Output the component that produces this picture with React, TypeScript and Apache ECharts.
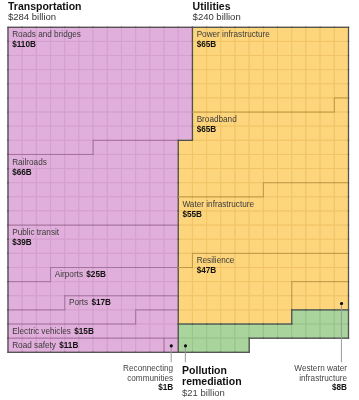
import React, { useEffect, useRef } from "react";
import * as echarts from "echarts";

const COLS = 24;
const ROWS = 23;

const groupNames = ["Transportation", "Utilities", "Pollution remediation"];
const groupTotalLabels = ["$284 billion", "$240 billion", "$21 billion"];

const transportationItems = [
  "Roads and bridges",
  "Railroads",
  "Public transit",
  "Airports",
  "Ports",
  "Electric vehicles",
  "Road safety",
  "Reconnecting communities",
];
const transportationValues = [110, 66, 39, 25, 17, 15, 11, 1];

const utilitiesItems = [
  "Power infrastructure",
  "Broadband",
  "Water infrastructure",
  "Resilience",
  "Western water infrastructure",
];
const utilitiesValues = [65, 65, 55, 47, 8];

const pollutionItems = ["Pollution remediation"];
const pollutionValues = [21];

// annotated (outside) labels
const annotatedItems = ["Reconnecting communities", "Western water infrastructure", "Pollution remediation"];

const FONT = "'Liberation Sans', Arial, sans-serif";
const groupFill = ["#e1afdb", "#fdd57c", "#a9d49c"];
const groupCellLine = ["#d59fce", "#f1c467", "#97c58b"];
const groupItemBorder = ["#a5729c", "#c09848", "#5c8a50"];
const BORDER = "#505050";

type Cell = { c: number; r: number; g: number; i: number };

const sum = (a: number[]) => a.reduce((s, v) => s + v, 0);

function buildLayout() {
  const grid: (Cell | null)[][] = Array.from({ length: ROWS }, () => Array(COLS).fill(null));
  const cells: Cell[] = [];
  const put = (c: number, r: number, g: number, i: number) => {
    const cell = { c, r, g, i };
    grid[r][c] = cell;
    cells.push(cell);
  };
  const assign = (list: number[][], values: number[], g: number, offset = 0) => {
    let k = 0;
    values.forEach((v, idx) => {
      for (let n = 0; n < v && k < list.length; n++, k++) put(list[k][0], list[k][1], g, idx + offset);
    });
  };

  const half = COLS / 2;
  const tTotal = sum(transportationValues);
  const extraRows = tTotal - half * ROWS;
  const tWidth = (r: number) => (r < extraRows ? half + 1 : half);

  const tCells: number[][] = [];
  for (let r = 0; r < ROWS; r++) for (let c = 0; c < tWidth(r); c++) tCells.push([c, r]);
  assign(tCells, transportationValues, 0);

  const region: number[][] = [];
  for (let r = 0; r < ROWS; r++) for (let c = tWidth(r); c < COLS; c++) region.push([c, r]);
  const uTotal = sum(utilitiesValues);
  const uCells = region.slice(0, uTotal);
  const last = uCells[uCells.length - 1];
  const partialRow = last[1];
  const partialEnd = last[0];
  const blockW = COLS - 1 - partialEnd;
  const lastVal = utilitiesValues[utilitiesValues.length - 1];
  const blockH = Math.ceil(lastVal / blockW);
  const inBlock = (c: number, r: number) =>
    c > partialEnd && r >= partialRow - blockH && r < partialRow;
  const rest = uCells.filter(([c, r]) => !inBlock(c, r));
  assign(rest, utilitiesValues.slice(0, -1), 1);
  const blockCells = uCells.filter(([c, r]) => inBlock(c, r));
  assign(blockCells, [lastVal], 1, utilitiesValues.length - 1);

  const pCells = region.slice(uTotal, uTotal + sum(pollutionValues));
  assign(pCells, pollutionValues, 2);

  // edges
  const edges: number[][] = [];
  const dirs = [
    [1, 0, "R"],
    [0, 1, "D"],
    [-1, 0, "L"],
    [0, -1, "U"],
  ] as const;
  for (const a of cells) {
    for (const [dc, dr, d] of dirs) {
      const nc = a.c + dc;
      const nr = a.r + dr;
      const n = nr >= 0 && nr < ROWS && nc >= 0 && nc < COLS ? grid[nr][nc] : null;
      let type = -1;
      if (!n) type = 0;
      else if (d === "R" || d === "D") {
        if (n.g !== a.g) type = 0;
        else if (n.i !== a.i) type = 1;
      }
      if (type < 0) continue;
      let seg: number[];
      if (d === "R") seg = [a.c + 1, a.r, a.c + 1, a.r + 1];
      else if (d === "L") seg = [a.c, a.r, a.c, a.r + 1];
      else if (d === "D") seg = [a.c, a.r + 1, a.c + 1, a.r + 1];
      else seg = [a.c, a.r, a.c + 1, a.r];
      edges.push([...seg, type, a.g]);
    }
  }

  // labels
  const groupItems = [transportationItems, utilitiesItems, pollutionItems];
  const groupValues = [transportationValues, utilitiesValues, pollutionValues];
  const labels: { c: number; r: number; name: string; value: number; two: boolean }[] = [];
  groupItems.forEach((items, g) => {
    items.forEach((name, i) => {
      if (annotatedItems.includes(name)) return;
      const mine = cells.filter((x) => x.g === g && x.i === i).sort((p, q) => p.r - q.r || p.c - q.c);
      const first = mine[0];
      const inRow = mine.filter((x) => x.r === first.r);
      let row = first.r;
      let col = first.c;
      if (inRow.length < 8) {
        row = first.r + 1;
        col = Math.min(...mine.filter((x) => x.r === row).map((x) => x.c));
      }
      const value = groupValues[g][i];
      labels.push({ c: col, r: row, name, value, two: value >= 30 });
    });
  });

  // annotation anchors
  const annotations = [
    {
      name: "Reconnecting communities",
      align: "right",
      dx: 2,
      lines: [
        { t: "Reconnecting", bold: false, size: 8.2 },
        { t: "communities", bold: false, size: 8.2 },
        { t: "$" + transportationValues[7] + "B", bold: true, size: 8.2 },
      ],
      dy: [16.4, 26.4, 35.2],
    },
    {
      name: "Western water infrastructure",
      align: "right",
      dx: 5.6,
      lines: [
        { t: "Western water", bold: false, size: 8.2 },
        { t: "infrastructure", bold: false, size: 8.2 },
        { t: "$" + utilitiesValues[4] + "B", bold: true, size: 8.2 },
      ],
      dy: [16.4, 26.4, 35.6],
    },
    {
      name: "Pollution remediation",
      align: "left",
      dx: -3.3,
      lines: [
        { t: "Pollution", bold: true, size: 10.5 },
        { t: "remediation", bold: true, size: 10.5 },
        { t: groupTotalLabels[2], bold: false, size: 9.5 },
      ],
      dy: [17.7, 28.7, 39.8],
    },
  ].map((a) => {
    let g = 0;
    let i = 0;
    groupItems.forEach((items, gi) => {
      const k = items.indexOf(a.name);
      if (k >= 0) {
        g = gi;
        i = k;
      }
    });
    const mine = cells.filter((x) => x.g === g && x.i === i);
    const bottom = Math.max(...mine.map((x) => x.r));
    const inRow = mine.filter((x) => x.r === bottom).map((x) => x.c);
    const col = a.align === "right" ? Math.max(...inRow) : Math.min(...inRow);
    return { ...a, c: col, r: bottom };
  });

  return { cells, edges, labels, annotations };
}

export default function App() {
  const ref = useRef<HTMLDivElement>(null);
  useEffect(() => {
    if (!ref.current) return;
    const chart = echarts.init(ref.current, undefined, { renderer: "svg" });
    const { cells, edges, labels, annotations } = buildLayout();

    const option: any = {
      animation: false,
      grid: { left: 8, top: 27.3, width: 340.5, height: 325 },
      xAxis: { type: "value", min: 0, max: COLS, show: false },
      yAxis: { type: "value", min: 0, max: ROWS, inverse: true, show: false },
      graphic: [
        {
          type: "text",
          x: 8,
          y: 5.5,
          style: { text: groupNames[0], font: `bold 10.5px ${FONT}`, fill: "#111", verticalAlign: "middle" },
        },
        {
          type: "text",
          x: 8,
          y: 16,
          style: { text: groupTotalLabels[0], font: `9.5px ${FONT}`, fill: "#333", verticalAlign: "middle" },
        },
        {
          type: "text",
          x: 192.6,
          y: 5.5,
          style: { text: groupNames[1], font: `bold 10.5px ${FONT}`, fill: "#111", verticalAlign: "middle" },
        },
        {
          type: "text",
          x: 192.6,
          y: 16,
          style: { text: groupTotalLabels[1], font: `9.5px ${FONT}`, fill: "#333", verticalAlign: "middle" },
        },
      ],
      series: [
        {
          type: "custom",
          clip: false,
          silent: true,
          data: cells.map((x) => [x.c, x.r, x.g, x.i]),
          encode: { x: 0, y: 1 },
          renderItem: (_p: any, api: any) => {
            const c = api.value(0);
            const r = api.value(1);
            const g = api.value(2);
            const p0 = api.coord([c, r]);
            const p1 = api.coord([c + 1, r + 1]);
            return {
              type: "rect",
              shape: { x: p0[0], y: p0[1], width: p1[0] - p0[0], height: p1[1] - p0[1] },
              style: { fill: groupFill[g], stroke: groupCellLine[g], lineWidth: 1 },
            };
          },
        },
        {
          type: "custom",
          clip: false,
          silent: true,
          z: 3,
          data: edges,
          encode: { x: [0, 2], y: [1, 3] },
          renderItem: (_p: any, api: any) => {
            const a = api.coord([api.value(0), api.value(1)]);
            const b = api.coord([api.value(2), api.value(3)]);
            const type = api.value(4);
            const g = api.value(5);
            return {
              type: "line",
              shape: { x1: a[0], y1: a[1], x2: b[0], y2: b[1] },
              style: {
                stroke: type === 0 ? BORDER : groupItemBorder[g],
                lineWidth: type === 0 ? 1.3 : 1,
                lineCap: "square",
              },
            };
          },
        },
        {
          type: "custom",
          clip: false,
          silent: true,
          z: 4,
          data: labels.map((l) => [l.c, l.r]),
          encode: { x: 0, y: 1 },
          renderItem: (p: any, api: any) => {
            const l = labels[p.dataIndex];
            const pt = api.coord([api.value(0), api.value(1)]);
            const x = pt[0] + 4.2;
            const y = pt[1] + 7.6;
            const val = "$" + l.value + "B";
            if (l.two) {
              return {
                type: "group",
                children: [
                  {
                    type: "text",
                    x,
                    y,
                    style: { text: l.name, font: `8.2px ${FONT}`, fill: "#3a3a3a", verticalAlign: "middle" },
                  },
                  {
                    type: "text",
                    x,
                    y: y + 10,
                    style: { text: val, font: `bold 8.2px ${FONT}`, fill: "#111", verticalAlign: "middle" },
                  },
                ],
              };
            }
            return {
              type: "text",
              x,
              y: pt[1] + 7,
              style: {
                text: `{n|${l.name}} {v|${val}}`,
                verticalAlign: "middle",
                rich: {
                  n: { font: `8.2px ${FONT}`, fill: "#3a3a3a" },
                  v: { font: `bold 8.2px ${FONT}`, fill: "#111" },
                },
              },
            };
          },
        },
        {
          type: "custom",
          clip: false,
          silent: true,
          z: 5,
          data: annotations.map((a) => [a.c, a.r]),
          encode: { x: 0, y: 1 },
          renderItem: (p: any, api: any) => {
            const a = annotations[p.dataIndex];
            const ctr = api.coord([api.value(0) + 0.5, api.value(1) + 0.5]);
            const bottom = api.coord([0, ROWS])[1];
            const tx = ctr[0] + a.dx;
            const children: any[] = [
              {
                type: "line",
                shape: { x1: ctr[0], y1: ctr[1], x2: ctr[0], y2: bottom + 10 },
                style: { stroke: "#999", lineWidth: 1 },
              },
              { type: "circle", shape: { cx: ctr[0], cy: ctr[1], r: 1.6 }, style: { fill: "#111" } },
            ];
            a.lines.forEach((ln, k) => {
              children.push({
                type: "text",
                x: tx,
                y: bottom + a.dy[k],
                style: {
                  text: ln.t,
                  font: `${ln.bold ? "bold " : ""}${ln.size}px ${FONT}`,
                  fill: ln.bold ? "#111" : "#444",
                  align: a.align,
                  verticalAlign: "middle",
                },
              });
            });
            return { type: "group", children };
          },
        },
      ],
    };
    chart.setOption(option);
    return () => chart.dispose();
  }, []);
  return <div ref={ref} style={{ position: "fixed", left: 0, top: 0, width: 359, height: 400 }} />;
}
